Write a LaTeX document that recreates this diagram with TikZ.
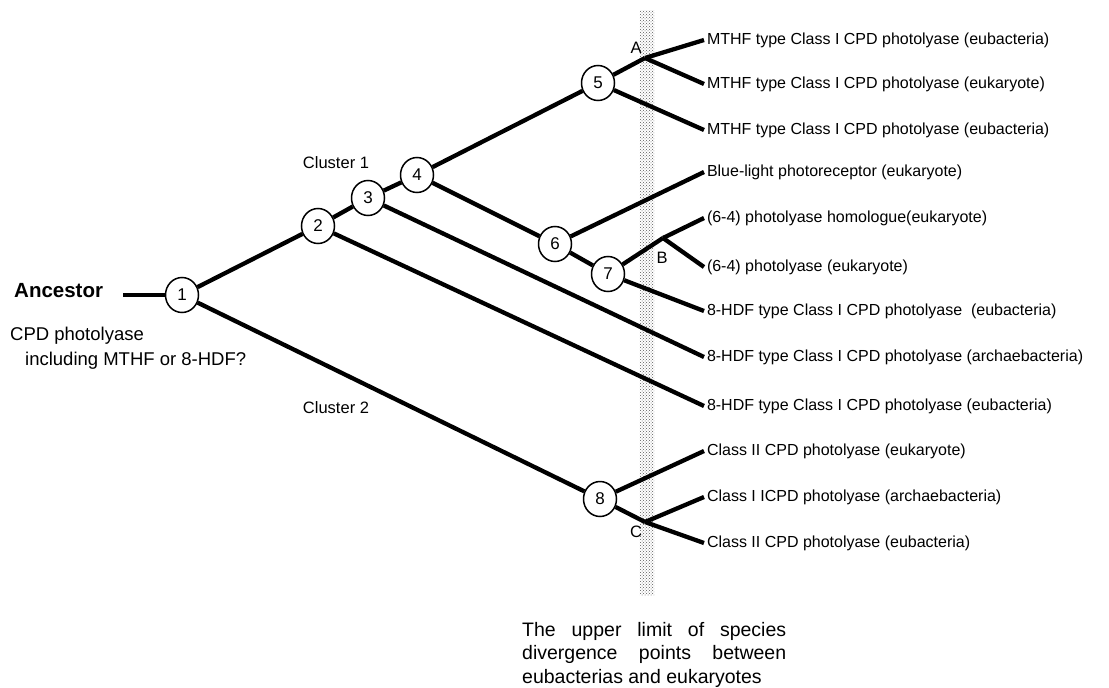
\documentclass[tikz,border=0pt]{standalone}
\usepackage{fontspec}
\setmainfont{Liberation Sans}
\usetikzlibrary{patterns,shapes.geometric}
\tikzset{
  branch/.style={line width=4.3pt},
  knot/.style={
    ellipse,
    draw=black, line width=1.5pt,
    fill=white,
    minimum width=33pt, minimum height=35pt,
    inner sep=0pt,
    font=\fontsize{17}{20}\selectfont},
  leaf/.style={anchor=west, inner sep=0pt, outer xsep=3pt,
    font=\fontsize{16}{20}\selectfont},
  tag/.style={inner sep=0pt, font=\fontsize{16.5}{20}\selectfont},
  remark/.style={anchor=base west, inner sep=0pt, font=\fontsize{18.5}{22}\selectfont},
  limitbar/.style={pattern=crosshatch dots, pattern color=black!65},
}

\begin{document}
\begin{tikzpicture}[x=1pt,y=-1pt]
  \useasboundingbox (0,0) rectangle (1109,688);
  % divergence limit
  \fill[limitbar] (639.5,10) rectangle (654,595);

  % branching points
  \node[knot] (n1) at (182,295) {1};
  \node[knot] (n2) at (318,226) {2};
  \node[knot] (n3) at (368,198) {3};
  \node[knot] (n4) at (417,175) {4};
  \node[knot] (n5) at (598,83) {5};
  \node[knot] (n6) at (555,244) {6};
  \node[knot] (n7) at (608,274) {7};
  \node[knot] (n8) at (600,499) {8};
  \coordinate (jA) at (645,58);
  \coordinate (jB) at (663,238);
  \coordinate (jC) at (645,522);
  \coordinate (root) at (123,295);

  % leaves
  \node[leaf] (l1) at (704,40) {MTHF type Class I CPD photolyase (eubacteria)};
  \node[leaf] (l2) at (704,84) {MTHF type Class I CPD photolyase (eukaryote)};
  \node[leaf] (l3) at (704,130) {MTHF type Class I CPD photolyase (eubacteria)};
  \node[leaf] (l4) at (704,172) {Blue-light photoreceptor (eukaryote)};
  \node[leaf] (l5) at (704,218) {(6-4) photolyase homologue(eukaryote)};
  \node[leaf] (l6) at (704,267) {(6-4) photolyase (eukaryote)};
  \node[leaf] (l7) at (704,311) {8-HDF type Class I CPD photolyase~ (eubacteria)};
  \node[leaf] (l8) at (704,357) {8-HDF type Class I CPD photolyase (archaebacteria)};
  \node[leaf] (l9) at (704,406) {8-HDF type Class I CPD photolyase (eubacteria)};
  \node[leaf] (l10) at (704,451) {Class II CPD photolyase (eukaryote)};
  \node[leaf] (l11) at (704,497) {Class I ICPD photolyase (archaebacteria)};
  \node[leaf] (l12) at (704,543) {Class II CPD photolyase (eubacteria)};

  % branches
  \draw[branch] (root) -- (n1);
  \draw[branch] (n1) -- (n2);
  \draw[branch] (n1) -- (n8);
  \draw[branch] (n2) -- (n3);
  \draw[branch] (n2) -- (l9.west);
  \draw[branch] (n3) -- (n4);
  \draw[branch] (n3) -- (l8.west);
  \draw[branch] (n4) -- (n5);
  \draw[branch] (n4) -- (n6);
  \draw[branch] (n5) -- (jA);
  \draw[branch] (jA) -- (l1.west);
  \draw[branch] (jA) -- (l2.west);
  \draw[branch] (n5) -- (l3.west);
  \draw[branch] (n6) -- (l4.west);
  \draw[branch] (n6) -- (n7);
  \draw[branch] (n7) -- (jB);
  \draw[branch] (jB) -- (l5.west);
  \draw[branch] (jB) -- (l6.west);
  \draw[branch] (n7) -- (l7.west);
  \draw[branch] (n8) -- (l10.west);
  \draw[branch] (n8) -- (jC);
  \draw[branch] (jC) -- (l11.west);
  \draw[branch] (jC) -- (l12.west);

  % labels
  \node[tag] (labA) at (636,48) {A};
  \node[tag] (labB) at (662,258) {B};
  \node[tag] (labC) at (636,532) {C};
  \node[tag] (cl1) at (336,163) {Cluster 1};
  \node[tag] (cl2) at (336,408) {Cluster 2};
  \node[remark, font=\fontsize{20.5}{22}\selectfont\bfseries] (anc) at (14,297) {Ancestor};
  \node[remark] (desc1) at (10,340) {CPD photolyase};
  \node[remark] (desc2) at (25,365) {including MTHF or 8-HDF?};
  \node[anchor=north west, inner sep=0pt, align=left,
    font=\fontsize{19.5}{23.5}\selectfont] (limit) at (522,622)
    {\makebox[264pt][s]{The upper limit of species}\\
     \makebox[264pt][s]{divergence points between}\\
     eubacterias and eukaryotes};
\end{tikzpicture}
\end{document}
